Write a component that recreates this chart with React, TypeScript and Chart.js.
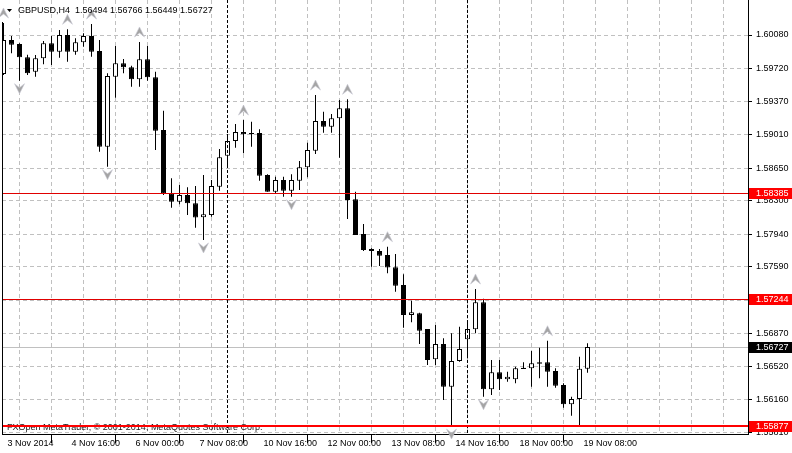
import React, { useEffect, useRef } from 'react';
import { Chart, registerables } from 'chart.js';

Chart.register(...registerables);

// ---------- data ----------
const symbolTitle = 'GBPUSD,H4';
const lastQuote = ['1.56494', '1.56766', '1.56449', '1.56727'];
const copyrightText = 'FXOpen MetaTrader, \u00A9 2001-2014, MetaQuotes Software Corp.';

const opens = [
  1.59661, 1.60026, 1.59983, 1.5984, 1.59686, 1.5983, 1.59991, 1.59901, 1.6008, 1.59901,
  1.60002, 1.60069, 1.59908, 1.58879, 1.59632, 1.59776, 1.59733, 1.59604, 1.59819, 1.59625,
  1.59059, 1.58379, 1.58288, 1.5836, 1.58271, 1.58121, 1.58145, 1.5845, 1.58783, 1.58941,
  1.59037, 1.59027, 1.59027, 1.58575, 1.58396, 1.58522, 1.58407, 1.58514, 1.58658, 1.58836,
  1.59156, 1.59094, 1.59185, 1.59292, 1.58314, 1.57941, 1.5778, 1.57758, 1.57715, 1.57583,
  1.57393, 1.57071, 1.57089, 1.5692, 1.56594, 1.56759, 1.563, 1.56576, 1.56809, 1.56917,
  1.57207, 1.56272, 1.56455, 1.56379, 1.56379, 1.56504, 1.56498, 1.56562, 1.56562, 1.56469,
  1.56318, 1.56111, 1.56168, 1.56494,
];
const highs = [
  1.60209, 1.60069, 1.5999, 1.59868, 1.59865, 1.60016, 1.60069, 1.60134, 1.60141, 1.60045,
  1.60098, 1.60198, 1.60026, 1.59668, 1.59962, 1.59822, 1.5975, 1.60005, 1.59962, 1.59686,
  1.59266, 1.5854, 1.58468, 1.58443, 1.58457, 1.58575, 1.58522, 1.58855, 1.59016, 1.59123,
  1.59166, 1.59148, 1.59066, 1.58583, 1.58557, 1.58557, 1.58583, 1.58726, 1.58922, 1.59435,
  1.59256, 1.59231, 1.59381, 1.59389, 1.58396, 1.58049, 1.57787, 1.5778, 1.57805, 1.57726,
  1.57508, 1.57224, 1.57095, 1.5692, 1.56963, 1.5682, 1.56874, 1.56945, 1.57017, 1.5735,
  1.57244, 1.56587, 1.56587, 1.56461, 1.56515, 1.56562, 1.56684, 1.56719, 1.56794, 1.56498,
  1.56337, 1.56192, 1.56622, 1.56766,
];
const lows = [
  1.5965, 1.59883, 1.59589, 1.5965, 1.59632, 1.59765, 1.59758, 1.59836, 1.59793, 1.59868,
  1.59954, 1.59847, 1.58826, 1.58665, 1.59406, 1.59668, 1.59524, 1.59524, 1.59589, 1.58844,
  1.5836, 1.58224, 1.5826, 1.58145, 1.58009, 1.57877, 1.58127, 1.58407, 1.58665, 1.58869,
  1.58809, 1.58879, 1.58514, 1.58396, 1.58379, 1.58342, 1.58342, 1.58414, 1.58551, 1.58801,
  1.5903, 1.5903, 1.58761, 1.58102, 1.5793, 1.57758, 1.5759, 1.57597, 1.57519, 1.57321,
  1.56934, 1.56992, 1.56759, 1.56533, 1.56533, 1.56157, 1.55877, 1.56569, 1.56605, 1.56874,
  1.56192, 1.56211, 1.56264, 1.56354, 1.56337, 1.5649, 1.563, 1.5639, 1.563, 1.56289,
  1.56074, 1.55988, 1.55888, 1.56449,
];
const closes = [
  1.60026, 1.59976, 1.5984, 1.59668, 1.5983, 1.59991, 1.59901, 1.6008, 1.59901, 1.60002,
  1.60069, 1.59901, 1.58879, 1.59639, 1.59776, 1.59733, 1.59604, 1.59819, 1.59625, 1.59051,
  1.58379, 1.58288, 1.5836, 1.58271, 1.58119, 1.58153, 1.58457, 1.58766, 1.58941, 1.59037,
  1.59013, 1.59013, 1.58568, 1.58396, 1.58522, 1.58407, 1.58522, 1.58658, 1.58844, 1.59156,
  1.59094, 1.59185, 1.59292, 1.58307, 1.5793, 1.57769, 1.57758, 1.57708, 1.57581, 1.57386,
  1.57071, 1.571, 1.56902, 1.56587, 1.56759, 1.563, 1.56576, 1.56705, 1.5692, 1.57207,
  1.56272, 1.56455, 1.56379, 1.56407, 1.56498, 1.5649, 1.56551, 1.56547, 1.56461, 1.56311,
  1.56111, 1.56168, 1.56494, 1.56727,
];

const timeLabels = [
  '3 Nov 2014', '4 Nov 16:00', '6 Nov 00:00', '7 Nov 08:00', '10 Nov 16:00',
  '12 Nov 00:00', '13 Nov 08:00', '14 Nov 16:00', '18 Nov 00:00', '19 Nov 08:00',
];
const barsPerLabel = 8;
const barsPerGrid = 4;
const priceTicks = [
  1.6008, 1.5972, 1.5937, 1.5901, 1.5865, 1.583, 1.5794, 1.5759, 1.5723, 1.5687, 1.5652, 1.5616, 1.5581,
];
const upFractals = [0, 8, 11, 17, 30, 39, 43, 48, 59, 68];
const downFractals = [2, 13, 25, 36, 56, 60];
const horizontalLines = [1.58385, 1.57244, 1.55877];
const bidPrice = 1.56727;
const verticalLineBars = [28, 58];

// ---------- view range ----------
const X_MIN = -0.1875;
const X_MAX = 93.0625;
const Y_MIN = 1.557915;
const Y_MAX = 1.604562;

const FONT = '"Liberation Sans", Arial, sans-serif';

function fmt(v: number) {
  return v.toFixed(5);
}

function drawFractal(ctx: CanvasRenderingContext2D, x: number, yTip: number, dir: number) {
  const h = 10;
  const w = 5;
  const notch = 4;
  ctx.beginPath();
  ctx.moveTo(x, yTip);
  ctx.lineTo(x + w, yTip - dir * h);
  ctx.lineTo(x, yTip - dir * (h - notch));
  ctx.lineTo(x - w, yTip - dir * h);
  ctx.closePath();
  ctx.fillStyle = '#a4a4a4';
  ctx.fill();
  ctx.strokeStyle = '#c8c8d4';
  ctx.lineWidth = 0.6;
  ctx.stroke();
}

const overlayPlugin = {
  id: 'mtOverlay',
  beforeDatasetsDraw(chart: any) {
    const { ctx, chartArea } = chart;
    const y = chart.scales.y;
    const py = Math.round(y.getPixelForValue(bidPrice)) + 0.5;
    ctx.save();
    ctx.strokeStyle = '#c0c0c0';
    ctx.lineWidth = 1;
    ctx.beginPath();
    ctx.moveTo(chartArea.left, py);
    ctx.lineTo(chartArea.right, py);
    ctx.stroke();
    ctx.restore();
  },
  afterDatasetsDraw(chart: any) {
    const { ctx, chartArea } = chart;
    const xs = chart.scales.x;
    const ys = chart.scales.y;
    ctx.save();
    // copyright text
    ctx.font = '9px ' + FONT;
    ctx.fillStyle = '#1a1a1a';
    ctx.textBaseline = 'middle';
    ctx.textAlign = 'left';
    ctx.fillText(copyrightText, 7, 428);

    // vertical dashed object lines
    ctx.strokeStyle = '#000';
    ctx.lineWidth = 1;
    ctx.setLineDash([3, 2]);
    verticalLineBars.forEach((b) => {
      const px = Math.floor(xs.getPixelForValue(b)) + 0.5;
      ctx.beginPath();
      ctx.moveTo(px, chartArea.top);
      ctx.lineTo(px, chartArea.bottom);
      ctx.stroke();
    });
    ctx.setLineDash([]);

    // horizontal red lines
    horizontalLines.forEach((p, i) => {
      const thick = i === horizontalLines.length - 1;
      const py = Math.round(ys.getPixelForValue(p));
      ctx.strokeStyle = thick ? '#ff0000' : '#e00000';
      ctx.lineWidth = thick ? 2 : 1;
      ctx.beginPath();
      ctx.moveTo(chartArea.left, thick ? py : py + 0.5);
      ctx.lineTo(chartArea.right, thick ? py : py + 0.5);
      ctx.stroke();
    });

    // fractals
    upFractals.forEach((b) => {
      const px = Math.floor(xs.getPixelForValue(b)) + 0.5;
      const py = ys.getPixelForValue(highs[b]);
      drawFractal(ctx, px, py - 15, -1);
    });
    downFractals.forEach((b) => {
      const px = Math.floor(xs.getPixelForValue(b)) + 0.5;
      const py = ys.getPixelForValue(lows[b]);
      drawFractal(ctx, px, py + 13, 1);
    });

    // left frame line
    ctx.strokeStyle = '#000';
    ctx.lineWidth = 1;
    ctx.beginPath();
    ctx.moveTo(chartArea.left + 0.5, 22);
    ctx.lineTo(chartArea.left + 0.5, chartArea.bottom);
    ctx.stroke();
    ctx.restore();
  },
  afterDraw(chart: any) {
    const { ctx, chartArea, width } = chart;
    const ys = chart.scales.y;
    ctx.save();
    ctx.font = '9px ' + FONT;
    ctx.textBaseline = 'middle';
    ctx.textAlign = 'left';
    const boxes: [number, string][] = horizontalLines.map((p) => [p, '#ff0000']);
    boxes.push([bidPrice, '#000000']);
    boxes.forEach(([p, c]) => {
      const py = Math.round(ys.getPixelForValue(p));
      ctx.fillStyle = c;
      ctx.fillRect(chartArea.right + 1, py - 5, width - chartArea.right - 1, 11);
      ctx.fillStyle = '#ffffff';
      ctx.fillText(fmt(p), chartArea.right + 8, py + 0.5);
    });

    // title
    ctx.fillStyle = '#000';
    ctx.beginPath();
    ctx.moveTo(7, 9);
    ctx.lineTo(12, 9);
    ctx.lineTo(9.5, 12);
    ctx.closePath();
    ctx.fill();
    ctx.fillText(symbolTitle + '  ' + lastQuote.join(' '), 18, 11);
    ctx.restore();
  },
};

export default function App() {
  const canvasRef = useRef<HTMLCanvasElement | null>(null);

  useEffect(() => {
    document.body.style.margin = '0';
    const canvas = canvasRef.current;
    if (!canvas) return;

    const bodies = opens.map((o, i) => ({ x: i, y: [o, closes[i]] }));
    const wicks = highs.map((h, i) => ({ x: i, y: [lows[i], h] }));
    const bodyColors = opens.map((o, i) => (closes[i] >= o ? '#ffffff' : '#000000'));

    const chart = new Chart(canvas, {
      type: 'bar',
      data: {
        datasets: [
          {
            label: 'wick',
            data: wicks as any,
            backgroundColor: '#000000',
            borderWidth: 0,
            barThickness: 1,
            grouped: false,
            order: 2,
            inflateAmount: 0,
          } as any,
          {
            label: 'body',
            data: bodies as any,
            backgroundColor: bodyColors,
            borderColor: '#000000',
            borderWidth: 1,
            borderSkipped: false,
            barThickness: 5,
            grouped: false,
            order: 1,
            inflateAmount: 0,
          } as any,
        ],
      },
      options: {
        animation: false,
        responsive: false,
        devicePixelRatio: 1,
        layout: { padding: { left: 2, top: 0, right: 0, bottom: 0 } },
        plugins: {
          legend: { display: false },
          tooltip: { enabled: false },
        },
        scales: {
          x: {
            type: 'linear',
            min: X_MIN,
            max: X_MAX,
            offset: false,
            afterBuildTicks: (s: any) => {
              const t = [];
              for (let v = 0; v <= X_MAX; v += barsPerGrid) t.push({ value: v });
              s.ticks = t;
            },
            afterFit: (s: any) => {
              s.height = 19;
              s.paddingLeft = 0;
              s.paddingRight = 0;
            },
            grid: {
              color: '#c0c0c0',
              lineWidth: 1,
              drawTicks: true,
              tickLength: 9,
              tickWidth: 1,
              tickColor: (ctx: any) => {
                const v = ctx.tick ? ctx.tick.value : 0;
                return v % barsPerLabel === 0 && v / barsPerLabel < timeLabels.length ? '#000000' : 'rgba(0,0,0,0)';
              },
            },
            border: { display: true, color: '#000000', width: 1, dash: [4, 3] },
            ticks: {
              autoSkip: false,
              maxRotation: 0,
              minRotation: 0,
              align: 'start',
              labelOffset: 4,
              padding: -5,
              color: '#000000',
              font: { family: FONT, size: 9 },
              callback: (v: any) => {
                const n = Number(v);
                if (n % barsPerLabel !== 0) return '';
                const k = n / barsPerLabel;
                return k < timeLabels.length ? timeLabels[k] : '';
              },
            },
          } as any,
          y: {
            type: 'linear',
            position: 'right',
            min: Y_MIN,
            max: Y_MAX,
            afterBuildTicks: (s: any) => {
              s.ticks = priceTicks.map((v) => ({ value: v }));
            },
            afterFit: (s: any) => {
              s.width = 44;
              s.paddingTop = 0;
              s.paddingBottom = 0;
            },
            grid: {
              color: '#c0c0c0',
              lineWidth: 1,
              drawTicks: true,
              tickLength: 4,
              tickColor: '#000000',
            },
            border: { display: true, color: '#000000', width: 1, dash: [4, 3] },
            ticks: {
              padding: 4,
              color: '#000000',
              font: { family: FONT, size: 9 },
              callback: (v: any) => fmt(Number(v)),
            },
          } as any,
        },
      },
      plugins: [overlayPlugin as any],
    });

    return () => {
      chart.destroy();
    };
  }, []);

  return (
    <div style={{ width: 792, height: 453, background: '#ffffff' }}>
      <canvas ref={canvasRef} width={792} height={453} style={{ display: 'block' }} />
    </div>
  );
}
